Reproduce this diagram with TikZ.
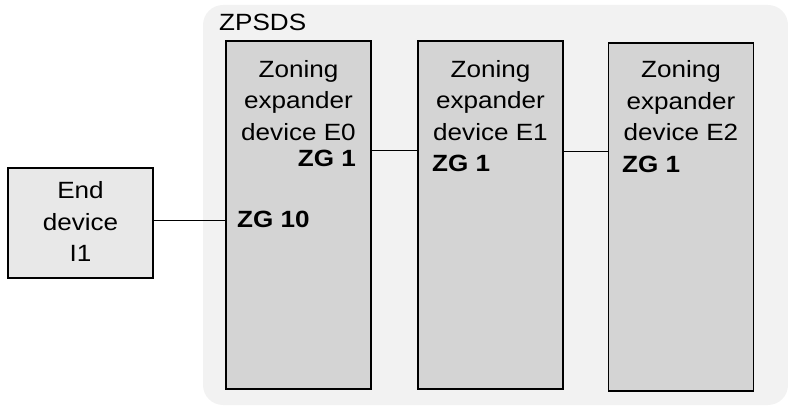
\documentclass[tikz,border=0pt]{standalone}
\usepackage{fontspec}
\setmainfont{Liberation Sans}
\newfontfamily\dfont[FakeStretch=1.11]{Liberation Sans}
\definecolor{bgzone}{HTML}{F2F2F2}
\definecolor{boxfill}{HTML}{D4D4D4}
\definecolor{endfill}{HTML}{E8E8E8}
\begin{document}
\begin{tikzpicture}[x=1pt,y=-1pt,
  txt/.style={inner sep=0pt, font=\dfont\fontsize{23.5}{31.6}\selectfont, align=center},
  zg/.style={inner sep=0pt, font=\dfont\fontsize{23.5}{31.6}\selectfont\bfseries},
  title/.style={inner sep=0pt, font=\dfont\fontsize{23.5}{31.6}\selectfont},
  expbox/.style={draw=black, line width=1.3pt, fill=boxfill, minimum width=145pt, minimum height=348pt, inner sep=0pt},
  endbox/.style={draw=black, line width=1.3pt, fill=endfill, minimum width=145pt, minimum height=110pt, inner sep=0pt},
  link/.style={draw=black, line width=0.9pt}]
\useasboundingbox (0,0) rectangle (788,406);
\node[fill=bgzone, rounded corners=20pt, minimum width=585pt, minimum height=400pt, inner sep=0pt] (zone) at (495.5,205) {};
\node[title, anchor=base west] (zname) at (219,31) {ZPSDS};
\node[endbox] (I1) at (80.5,223) {};
\node[expbox] (E0) at (298.5,215) {};
\node[expbox] (E1) at (490.5,215) {};
\node[expbox] (E2) at (681,217) {};
\node[txt, anchor=north] (I1t) at (80.5,181.5) {End\\device\\I1};
\node[txt, anchor=north] (E0t) at (298.5,60) {Zoning\\expander\\device E0};
\node[txt, anchor=north] (E1t) at (490.5,60) {Zoning\\expander\\device E1};
\node[txt, anchor=north] (E2t) at (681,60.5) {Zoning\\expander\\device E2};
\node[zg, anchor=base east] (z0a) at (356,167) {ZG 1};
\node[zg, anchor=base west] (z0b) at (237,228) {ZG 10};
\node[zg, anchor=base west] (z1) at (432,172) {ZG 1};
\node[zg, anchor=base west] (z2) at (622,173) {ZG 1};
\coordinate (l0) at (0,220);
\coordinate (l1) at (0,150);
\coordinate (l2) at (0,151);
\draw[link] (I1.east |- l0) -- (E0.west |- l0);
\draw[link] (E0.east |- l1) -- (E1.west |- l1);
\draw[link] (E1.east |- l2) -- (E2.west |- l2);
\end{tikzpicture}
\end{document}
